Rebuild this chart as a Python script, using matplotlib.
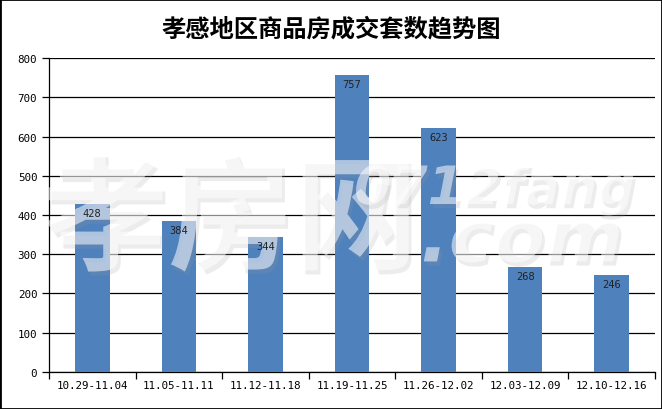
import matplotlib
matplotlib.use("Agg")
import matplotlib.pyplot as plt
import matplotlib.patheffects as pe
import numpy as np

# 数据
periods = ["10.29-11.04", "11.05-11.11", "11.12-11.18", "11.19-11.25",
           "11.26-12.02", "12.03-12.09", "12.10-12.16"]
deals = [428, 384, 344, 757, 623, 268, 246]
title = "孝感地区商品房成交套数趋势图"

plt.rcParams['font.family'] = ['Noto Sans CJK SC', 'DejaVu Sans']

fig = plt.figure(figsize=(6.62, 4.10), dpi=100)
ax = fig.add_axes([49/662, (410-372.7)/410, (655-49)/662, (372.7-59.3)/410])

x = np.arange(len(periods))
ax.bar(x, deals, width=0.4, color='#4F81BD', zorder=3)
for xi, v in zip(x, deals):
    ax.text(xi, v - 10, str(v), ha='center', va='top', fontsize=7.5,
            family='DejaVu Sans Mono', color='#222222', zorder=6)

ax.set_xlim(-0.5, len(periods) - 0.5)
ax.set_ylim(0, 800)
ax.set_yticks(range(0, 801, 100))
ax.yaxis.grid(True, color='black', linewidth=0.9, zorder=1)
ax.set_xticks(x)
ax.set_xticklabels(periods, family='DejaVu Sans Mono', fontsize=7.8)
ax.set_xticks(np.arange(-0.5, len(periods)), minor=True)
ax.tick_params(axis='x', which='major', length=0, pad=6)
ax.tick_params(axis='x', which='minor', length=5, width=0.9, direction='out')
ax.tick_params(axis='y', length=5, width=0.9, direction='out', labelsize=7.8)
for lab in ax.get_yticklabels():
    lab.set_family('DejaVu Sans Mono')
for s in ['top', 'right']:
    ax.spines[s].set_visible(False)
for s in ['left', 'bottom']:
    ax.spines[s].set_linewidth(0.9)

# 水印（在柱子之上、数字之下）
shadow = [pe.withSimplePatchShadow(offset=(2, -3), shadow_rgbFace='#999999', alpha=0.18), pe.Normal()]
wm = dict(color='white', alpha=0.32, fontweight='bold', transform=fig.transFigure,
          clip_on=False, zorder=5, path_effects=shadow)
ax.text(0.065, 0.365, "孝房网", fontsize=90, **wm)
ax.text(0.535, 0.50, "0712fang", fontsize=38, style='italic', family='DejaVu Sans', **wm)
ax.text(0.635, 0.36, ".com", fontsize=54, style='italic', family='DejaVu Sans', **wm)

fig.text(0.5, 0.927, title, ha='center', va='center', fontsize=17.5, fontweight='bold')

# 外框
fig.patches.append(plt.Rectangle((0, 0), 1, 1, transform=fig.transFigure, fill=False,
                                 edgecolor='black', linewidth=2))

fig.savefig("out.png", dpi=100)
